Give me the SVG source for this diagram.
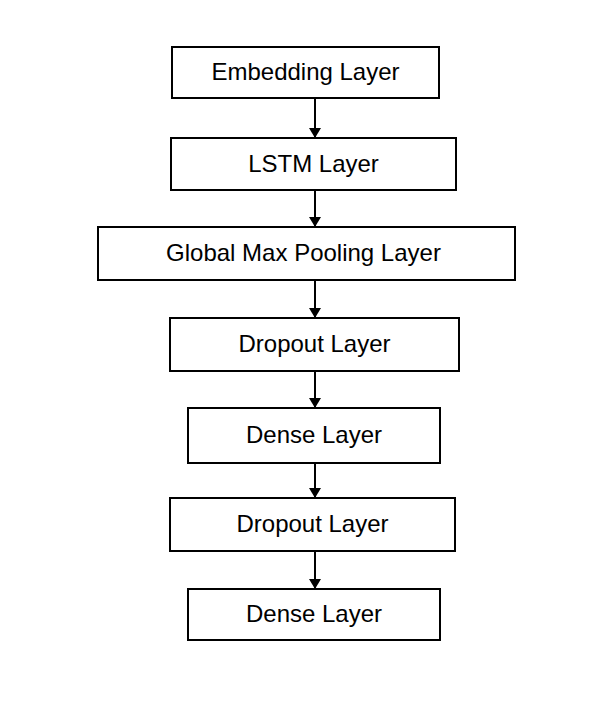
<svg xmlns="http://www.w3.org/2000/svg" width="610" height="726" viewBox="0 0 610 726">
<style>
.box{fill:#fff;stroke:#000;stroke-width:2}
.lbl{font-family:"Liberation Sans",Arial,sans-serif;font-size:24px;fill:#000;text-anchor:middle}
.con{stroke:#000;stroke-width:2;fill:none}
</style>
<defs>
<marker id="ah" markerWidth="10" markerHeight="12" refX="10" refY="6" orient="auto" markerUnits="userSpaceOnUse">
<path d="M0,0 L10,6 L0,12 Z" fill="#000"/>
</marker>
</defs>
<rect width="610" height="726" fill="#fff"/>
<g id="connectors">
<line class="con" x1="315" y1="98" x2="315" y2="138" marker-end="url(#ah)"/>
<line class="con" x1="315" y1="190" x2="315" y2="227" marker-end="url(#ah)"/>
<line class="con" x1="315" y1="280" x2="315" y2="318" marker-end="url(#ah)"/>
<line class="con" x1="315" y1="371" x2="315" y2="408" marker-end="url(#ah)"/>
<line class="con" x1="315" y1="463" x2="315" y2="498" marker-end="url(#ah)"/>
<line class="con" x1="315" y1="551" x2="315" y2="589" marker-end="url(#ah)"/>
</g>
<g id="embedding"><rect class="box" x="172" y="47" width="267" height="51"/><text class="lbl" x="305.5" y="80">Embedding Layer</text></g>
<g id="lstm"><rect class="box" x="171" y="138" width="285" height="52"/><text class="lbl" x="313.5" y="172">LSTM Layer</text></g>
<g id="gmp"><rect class="box" x="98" y="227" width="417" height="53"/><text class="lbl" x="303.5" y="261">Global Max Pooling Layer</text></g>
<g id="dropout1"><rect class="box" x="170" y="318" width="289" height="53"/><text class="lbl" x="314.5" y="352">Dropout Layer</text></g>
<g id="dense1"><rect class="box" x="188" y="408" width="252" height="55"/><text class="lbl" x="314" y="443">Dense Layer</text></g>
<g id="dropout2"><rect class="box" x="170" y="498" width="285" height="53"/><text class="lbl" x="312.5" y="532">Dropout Layer</text></g>
<g id="dense2"><rect class="box" x="188" y="589" width="252" height="51"/><text class="lbl" x="314" y="622">Dense Layer</text></g>
</svg>
